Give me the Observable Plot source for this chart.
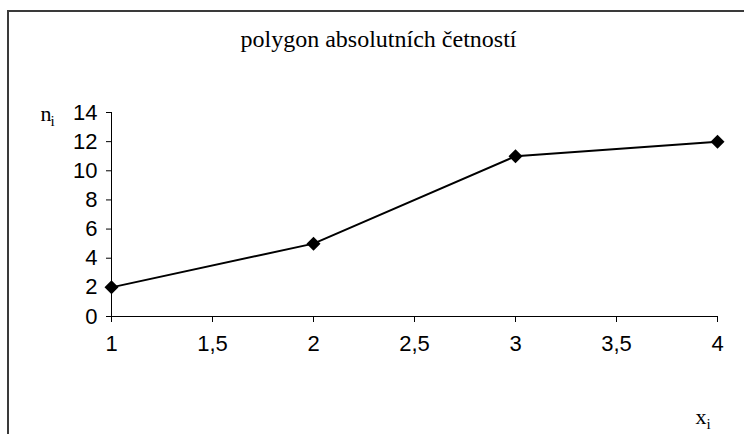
<!DOCTYPE html>
<html>
<head>
<meta charset="utf-8">
<script src="https://cdn.jsdelivr.net/npm/d3@7"></script>
<script src="https://cdn.jsdelivr.net/npm/@observablehq/plot@0.6"></script>
<style>
  html, body { margin: 0; padding: 0; background: #fff; }
  #wrap { position: relative; width: 744px; height: 434px; overflow: hidden; }
  #border { position: absolute; left: 7px; top: 10px; width: 800px; height: 500px;
            border-left: 2px solid #3a3a3a; border-top: 2px solid #3a3a3a; }
  #chart { position: absolute; left: 0; top: 0; }
</style>
</head>
<body>
<div id="wrap"><div id="border"></div><div id="chart"></div></div>
<script>
// Polygon of absolute frequencies: values x_i and their counts n_i
const xValues = [1, 2, 3, 4];
const nValues = [2, 5, 11, 12];
const xTicks = [1, 1.5, 2, 2.5, 3, 3.5, 4];
const yTicks = [0, 2, 4, 6, 8, 10, 12, 14];
const chartTitle = "polygon absolutních četností";

const data = xValues.map((x, i) => ({x, n: nValues[i]}));
const comma = d => String(d).replace(".", ",");
const serif = "'Liberation Serif', 'Times New Roman', serif";

const padLeft = 111, padTop = 112;

// a text label placed relative to the top-left corner of the plotting frame
const label = (s, px, py, size, anchor = "start") =>
  Plot.text([s], {text: d => d, frameAnchor: "top-left", textAnchor: anchor, lineAnchor: "bottom",
    dx: px - padLeft, dy: py - padTop, fontFamily: serif, fontSize: size, fill: "#000"});

const chart = Plot.plot({
  width: 744,
  height: 434,
  marginLeft: padLeft,
  marginRight: 27,
  marginTop: padTop,
  marginBottom: 118,
  style: {fontFamily: "'Liberation Sans', Arial, sans-serif", fontSize: "22px", color: "#000", background: "transparent"},
  x: {domain: [1, 4], ticks: xTicks, tickFormat: comma, tickSize: 6, tickPadding: 13, label: null},
  y: {domain: [0, 14], ticks: yTicks, tickSize: 5, tickPadding: 9, label: null},
  marks: [
    Plot.ruleY([0], {stroke: "#000", strokeWidth: 1}),
    Plot.ruleX([1], {stroke: "#000", strokeWidth: 1}),
    Plot.line(data, {x: "x", y: "n", stroke: "#000", strokeWidth: 2}),
    Plot.dot(data, {x: "x", y: "n", symbol: "diamond2", r: 6.3, fill: "#000", stroke: "none"}),
    label(chartTitle, 378, 46, 24, "middle"),
    label("n", 40, 120, 22),
    label("i", 50, 125, 15),
    label("x", 695, 423, 22),
    label("i", 706, 428, 15)
  ]
});
document.getElementById("chart").appendChild(chart);
</script>
</body>
</html>
